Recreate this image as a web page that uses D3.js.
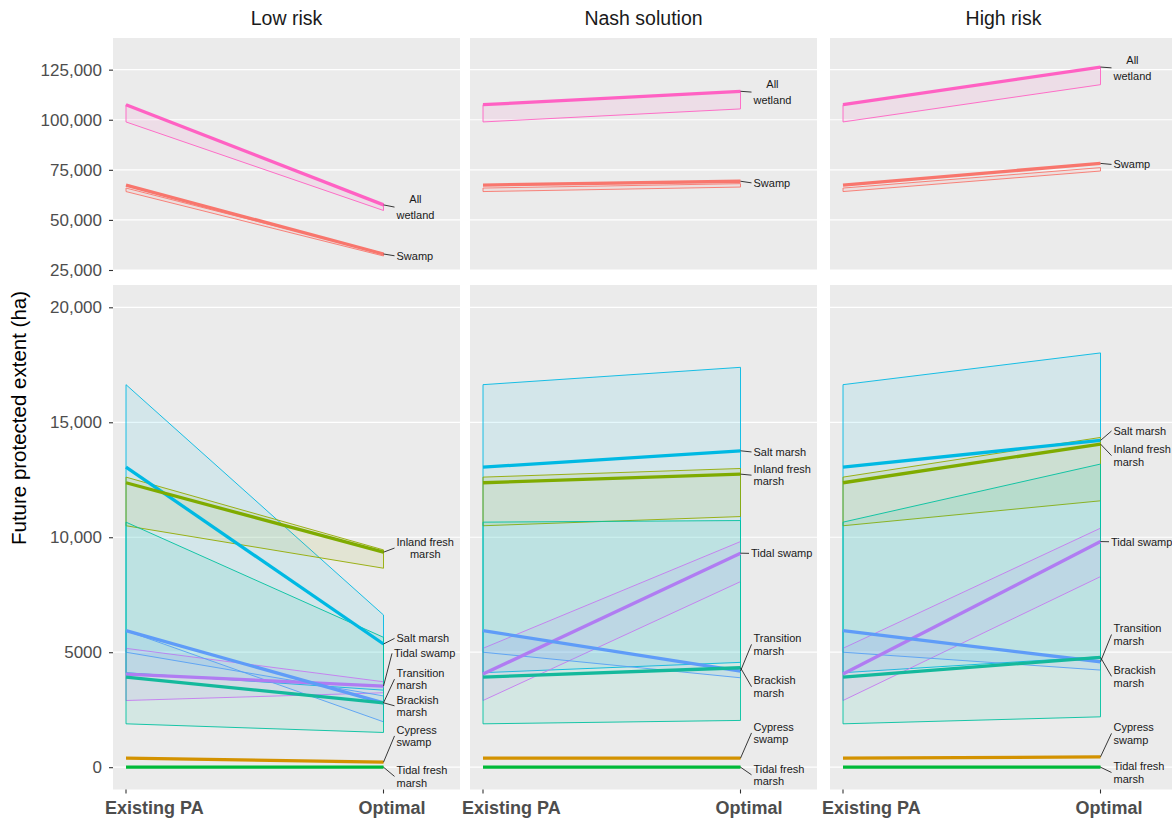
<!DOCTYPE html>
<html>
<head>
<meta charset="utf-8">
<script src="https://cdn.jsdelivr.net/npm/d3@7/dist/d3.min.js"></script>
<style>
  body { margin: 0; background: #fff; }
  text { font-family: "Liberation Sans", Arial, Helvetica, sans-serif; }
</style>
</head>
<body>
<div id="chart"></div>
<script>
// ---- data ----
const scenarios = ['Low risk', 'Nash solution', 'High risk']
const stages = ['Existing PA', 'Optimal']
const wetlands = ['All wetland', 'Swamp', 'Salt marsh', 'Inland fresh marsh', 'Tidal swamp',
  'Transition marsh', 'Brackish marsh', 'Cypress swamp', 'Tidal fresh marsh']

// existing protected areas (same for every scenario)
const existingMean = [107500, 67400, 13050, 12370, 4050, 5936, 3920, 392, 0]
const existingEdgeA = [107500, 65900, 16636, 12615, 5169, 5936, 10657, 392, 0]
const existingEdgeB = [98900, 64150, 4110, 10500, 2900, 5000, 1886, 392, 0]

// optimal solution, one list per scenario
const lowMean = [57500, 33000, 5357, 9350, 3528, 2800, 2800, 218, 0]
const lowEdgeA = [57500, 33300, 6620, 9450, 3715, 1973, 5648, 218, 0]
const lowEdgeB = [54700, 32000, 3350, 8653, 3236, 3100, 1510, 218, 0]

const nashMean = [114200, 69300, 13760, 12745, 9307, 4181, 4325, 392, 0]
const nashEdgeA = [114200, 68100, 17390, 12990, 9812, 4181, 10727, 392, 0]
const nashEdgeB = [105400, 66400, 4559, 10900, 8070, 3889, 2034, 392, 0]

const highMean = [126300, 78200, 14210, 14053, 9812, 4586, 4776, 450, 0]
const highEdgeA = [126300, 76100, 18016, 14341, 10395, 4586, 13183, 450, 0]
const highEdgeB = [117500, 74400, 4804, 11584, 8288, 4224, 2191, 450, 0]

const topTicks = [25000, 50000, 75000, 100000, 125000]
const bottomTicks = [0, 5000, 10000, 15000, 20000]

// where the repelled labels sit (in hectares)
const lowLabelAt = [56400, 32100, 5600, 9530, 4950, 3830, 2670, 1360, -400]
const nashLabelAt = [113800, 68500, 13710, 12700, 9300, 5340, 3500, 1490, -330]
const highLabelAt = [125900, 77700, 14620, 13550, 9805, 5770, 3950, 1470, -230]

// ---- styles ----
const ribbonColor = ['#FF61C3', '#F8766D', '#00B9E3', '#93AA00', '#DB72FB', '#619CFF', '#00C19F', '#D39200', '#00BA38']
const lineColor = ['#FF61C3', '#F8766D', '#00B9E3', '#7FAB00', '#B07CF2', '#5F9CF8', '#14B99C', '#D39200', '#00BA38']
const labelText = ['All\nwetland', 'Swamp', 'Salt marsh', 'Inland fresh\nmarsh', 'Tidal swamp',
  'Transition\nmarsh', 'Brackish\nmarsh', 'Cypress\nswamp', 'Tidal fresh\nmarsh']

const panels = scenarios.map((s, i) => ({
  name: s,
  mean: [lowMean, nashMean, highMean][i],
  edgeA: [lowEdgeA, nashEdgeA, highEdgeA][i],
  edgeB: [lowEdgeB, nashEdgeB, highEdgeB][i],
  labelAt: [lowLabelAt, nashLabelAt, highLabelAt][i]
}))

const width = 1172
const height = 820
const panelLeft = [113, 470, 830]
const panelWidth = 347
// x tick labels are nudged from their ticks in the original
const stageNudge = { 'Existing PA': -21, 'Optimal': -25 }

const rows = [
  { top: 38, bottom: 270, domain: [25000, 140800], ticks: topTicks, members: [0, 1] },
  { top: 285, bottom: 789.5, domain: [-970, 20970], ticks: bottomTicks, members: [2, 3, 4, 5, 6, 7, 8] }
]
rows.forEach(r => {
  r.y = d3.scaleLinear().domain(r.domain).range([r.bottom, r.top])
})

const fmt = v => (v >= 10000 ? d3.format(',')(v) : String(v))

const svg = d3.select('#chart').append('svg')
  .attr('width', width)
  .attr('height', height)

svg.append('rect').attr('width', width).attr('height', height).attr('fill', '#fff')

panels.forEach((p, pi) => {
  const left = panelLeft[pi]
  const x = d3.scalePoint().domain(stages).range([left + 13, left + 270.5])
  const xE = x('Existing PA')
  const xO = x('Optimal')

  // strip title
  svg.append('text')
    .attr('x', left + panelWidth / 2)
    .attr('y', 18)
    .attr('text-anchor', 'middle')
    .attr('dominant-baseline', 'central')
    .attr('font-size', 19.5)
    .attr('fill', '#1a1a1a')
    .text(p.name)

  rows.forEach(row => {
    const y = row.y
    const g = svg.append('g')

    g.append('rect')
      .attr('x', left)
      .attr('y', row.top)
      .attr('width', panelWidth)
      .attr('height', row.bottom - row.top)
      .attr('fill', '#EBEBEB')

    g.selectAll('.grid')
      .data(row.ticks)
      .enter()
      .append('line')
      .attr('x1', left)
      .attr('x2', left + panelWidth)
      .attr('y1', d => y(d))
      .attr('y2', d => y(d))
      .attr('stroke', '#fff')
      .attr('stroke-width', 1.2)

    // ribbons first
    row.members.forEach(k => {
      const pts = [
        [xE, y(existingEdgeA[k])],
        [xO, y(p.edgeA[k])],
        [xO, y(p.edgeB[k])],
        [xE, y(existingEdgeB[k])]
      ]
      g.append('path')
        .attr('d', d3.line().curve(d3.curveLinearClosed)(pts))
        .attr('fill', ribbonColor[k])
        .attr('fill-opacity', 0.1)
        .attr('stroke', ribbonColor[k])
        .attr('stroke-width', 0.9)
        .attr('stroke-linejoin', 'round')
    })

    // thick mean lines on top
    row.members.forEach(k => {
      g.append('line')
        .attr('x1', xE)
        .attr('x2', xO)
        .attr('y1', y(existingMean[k]))
        .attr('y2', y(p.mean[k]))
        .attr('stroke', lineColor[k])
        .attr('stroke-width', 3.3)
    })

    // labels with leader lines
    row.members.forEach(k => {
      const lines = labelText[k].split('\n')
      const gap = k === 0 ? 16.5 : 12.5
      const cy = y(p.labelAt[k])
      const tx = xO + (k === 4 ? 10.5 : 13)
      const centred = k === 0 || (pi === 0 && k === 3)

      g.append('line')
        .attr('x1', xO)
        .attr('y1', y(p.mean[k]))
        .attr('x2', tx - 2)
        .attr('y2', cy)
        .attr('stroke', '#222')
        .attr('stroke-width', 0.9)

      const t = g.append('text')
        .attr('font-size', 11)
        .attr('fill', '#1a1a1a')
        .attr('dominant-baseline', 'central')
      lines.forEach((ln, li) => {
        t.append('tspan')
          .attr('x', tx)
          .attr('y', cy + (li - (lines.length - 1) / 2) * gap)
          .text(ln)
      })
      if (centred) {
        const spans = t.selectAll('tspan').nodes()
        const maxW = d3.max(spans, s => s.getComputedTextLength())
        t.selectAll('tspan')
          .attr('x', tx + maxW / 2)
          .attr('text-anchor', 'middle')
      }
    })
  })

  // x axis ticks and labels
  const xAxis = svg.append('g').attr('transform', `translate(0,${rows[1].bottom})`)
  xAxis.selectAll('line')
    .data(stages)
    .enter()
    .append('line')
    .attr('x1', d => x(d))
    .attr('x2', d => x(d))
    .attr('y1', 0)
    .attr('y2', 4)
    .attr('stroke', '#333')
    .attr('stroke-width', 1.1)
  xAxis.selectAll('text')
    .data(stages)
    .enter()
    .append('text')
    .attr('x', d => x(d) + stageNudge[d])
    .attr('y', 18.5)
    .attr('text-anchor', 'start')
    .attr('dominant-baseline', 'central')
    .attr('font-size', 18)
    .attr('font-weight', 'bold')
    .attr('fill', '#4D4D4D')
    .text(d => d)
})

// y axes (left column only)
rows.forEach(row => {
  const ax = svg.append('g')
    .attr('transform', `translate(${panelLeft[0]},0)`)
    .call(d3.axisLeft(row.y).tickValues(row.ticks).tickSize(4).tickPadding(7).tickFormat(fmt))
  ax.select('.domain').remove()
  ax.selectAll('.tick line').attr('stroke', '#333').attr('stroke-width', 1.1)
  ax.selectAll('.tick text')
    .attr('font-size', 17)
    .attr('fill', '#4D4D4D')
    .attr('font-family', '"Liberation Sans", Arial, sans-serif')
})

svg.append('text')
  .attr('transform', 'translate(18,418) rotate(-90)')
  .attr('text-anchor', 'middle')
  .attr('dominant-baseline', 'central')
  .attr('font-size', 20.5)
  .attr('fill', '#000')
  .text('Future protected extent (ha)')
</script>
</body>
</html>
